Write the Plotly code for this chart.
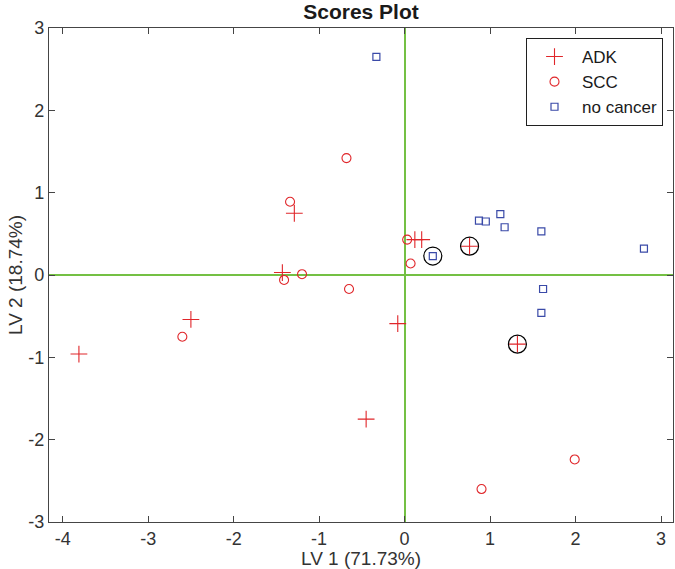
import plotly.graph_objects as go

adk_x = [-3.81, -2.50, -1.29, -1.43, 0.12, 0.20, 0.76, -0.08, -0.45, 1.32]
adk_y = [-0.96, -0.54, 0.75, 0.03, 0.43, 0.43, 0.35, -0.59, -1.75, -0.84]

scc_x = [-2.60, -1.41, -1.20, -1.34, -0.68, 0.03, 0.07, -0.65, 0.90, 1.99]
scc_y = [-0.75, -0.06, 0.01, 0.89, 1.42, 0.43, 0.14, -0.17, -2.60, -2.24]

nc_x = [-0.33, 0.33, 0.87, 0.95, 1.12, 1.17, 1.60, 2.80, 1.62, 1.60]
nc_y = [2.65, 0.23, 0.66, 0.65, 0.74, 0.58, 0.53, 0.32, -0.17, -0.46]

hl_x = [0.33, 0.76, 1.32]
hl_y = [0.23, 0.35, -0.84]

x_ticks = [-4, -3, -2, -1, 0, 1, 2, 3]
x_ticklabels = ["-4", "-3", "-2", "-1", "0", "1", "2", "3"]
y_ticks = [-3, -2, -1, 0, 1, 2, 3]
y_ticklabels = ["-3", "-2", "-1", "0", "1", "2", "3"]

red = "#e0262a"
blue = "#3a4aa8"
green = "#74c044"
axc = "#454545"
font = "Liberation Sans, Arial, Helvetica, sans-serif"

fig = go.Figure()
fig.add_trace(go.Scatter(x=adk_x, y=adk_y, mode="markers", name="ADK",
                         marker=dict(symbol="cross-thin-open", size=12,
                                     line=dict(color=red, width=1.1), color=red)))
fig.add_trace(go.Scatter(x=scc_x, y=scc_y, mode="markers", name="SCC",
                         marker=dict(symbol="circle-open", size=9,
                                     line=dict(color=red, width=1.1), color=red)))
fig.add_trace(go.Scatter(x=nc_x, y=nc_y, mode="markers", name="no cancer",
                         marker=dict(symbol="square-open", size=7,
                                     line=dict(color=blue, width=1.2), color=blue)))
fig.add_trace(go.Scatter(x=hl_x, y=hl_y, mode="markers", showlegend=False,
                         marker=dict(symbol="circle-open", size=18,
                                     line=dict(color="black", width=1.2), color="black")))

axis_common = dict(showgrid=False, showline=True, linecolor=axc, linewidth=1.2,
                   mirror="ticks", ticks="inside", ticklen=6, tickcolor=axc,
                   tickfont=dict(family=font, size=18, color="#333333"),
                   zeroline=True, zerolinecolor=green, zerolinewidth=1.5,
                   automargin=False)

fig.update_layout(
    width=675, height=569,
    margin=dict(l=49, r=2, t=28, b=47),
    paper_bgcolor="white", plot_bgcolor="white",
    title=dict(text="<b>Scores Plot</b>", x=0.5, xref="paper", xanchor="center",
               y=1 - 12 / 569, yref="container", yanchor="middle",
               font=dict(family=font, size=21, color="#1a1a1a")),
    xaxis=dict(range=[-4.16, 3.14], tickvals=x_ticks, ticktext=x_ticklabels,
               title=dict(text="LV 1 (71.73%)", standoff=0,
                          font=dict(family=font, size=19, color="#333333")),
               **axis_common),
    yaxis=dict(range=[-3, 3], tickvals=y_ticks, ticktext=y_ticklabels,
               title=dict(text="LV 2 (18.74%)", standoff=0,
                          font=dict(family=font, size=19, color="#333333")),
               **axis_common),
    legend=dict(x=(663 - 49) / 624, y=1 - (38 - 28) / 494, xanchor="right", yanchor="top",
                bordercolor="#202020", borderwidth=1, bgcolor="white",
                font=dict(family=font, size=17, color="#1a1a1a"),
                tracegroupgap=0, itemsizing="trace", itemwidth=45),
    showlegend=True,
)

fig.write_html("out.html", config={"displayModeBar": False},
               post_script="document.body.style.margin='0';document.body.style.overflow='hidden';")
